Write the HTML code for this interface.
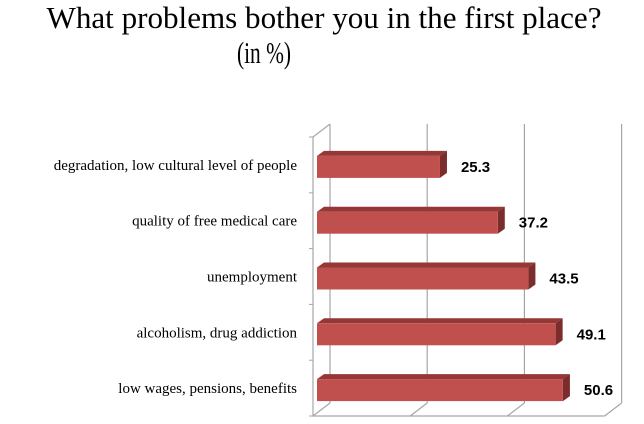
<!DOCTYPE html>
<html><head><meta charset="utf-8"><style>
html,body{margin:0;padding:0;background:#fff;}
svg{display:block;}
</style></head><body>
<svg id="chart" width="644" height="424" xmlns="http://www.w3.org/2000/svg">
<text x="324" y="28" text-anchor="middle" font-family="Liberation Serif, serif" font-size="31" textLength="555" lengthAdjust="spacingAndGlyphs" fill="#000">What problems bother you in the first place?</text>
<text x="264" y="63" text-anchor="middle" font-family="Liberation Serif, serif" font-size="31" textLength="54" lengthAdjust="spacingAndGlyphs" fill="#000">(in %)</text>
<g id="grid"></g>
<g id="bars"></g>
</svg>
<script>
const categories = ["degradation, low cultural level of people","quality of free medical care","unemployment","alcoholism, drug addiction","low wages, pensions, benefits"];
const values = [25.3, 37.2, 43.5, 49.1, 50.6];
const valueLabels = ["25.3","37.2","43.5","49.1","50.6"];
const ticks = [0, 20, 40, 60];

const NS = "http://www.w3.org/2000/svg";
const x0 = 317, pxPer = 4.86;
function xs(v){ return x0 + v*pxPer; }
const yTop = 137, yBottom = 416, nCat = categories.length;
const band = (yBottom-yTop)/nCat;
function yBand(i){ return yTop + i*band; }
const dx = 17, dy = 13;
function mk(tag, attrs, parent){ const e=document.createElementNS(NS,tag); for(const k in attrs) e.setAttribute(k,attrs[k]); parent.appendChild(e); return e; }
const grid = document.getElementById('grid');
const bars = document.getElementById('bars');
ticks.forEach((t)=>{
  const fx = xs(t)-4;
  const g = mk('line',{x1:fx+dx,y1:yTop-dy,x2:fx+dx,y2:yBottom-dy,stroke:'#a6a6a6','stroke-width':1.2},grid);
  
  
  mk('line',{x1:fx,y1:yBottom,x2:fx+dx,y2:yBottom-dy,stroke:'#a6a6a6','stroke-width':1.2},grid);
});
const fl = xs(0)-4;
const ax = mk('line',{x1:fl,y1:yTop,x2:fl,y2:yBottom,stroke:'#a6a6a6','stroke-width':1.2},grid);


mk('line',{x1:fl,y1:yTop,x2:fl+dx,y2:yTop-dy,stroke:'#a6a6a6','stroke-width':1.2},grid);
const bx = mk('line',{x1:fl,y1:yBottom,x2:xs(60)-4,y2:yBottom,stroke:'#a6a6a6','stroke-width':1.2},grid);


for(let i=0;i<=nCat;i++){ mk('line',{x1:fl-4,y1:yBand(i),x2:fl,y2:yBand(i),stroke:'#a6a6a6','stroke-width':1},grid); }
const bh = 22, bd = 7, bu = 5;
values.forEach((v,i)=>{
  const y = yBand(i) + band/2 - bh/2 + 2;
  const x1 = xs(0), x2 = xs(v);
  const g = mk('g',{},bars);
  
  
  mk('polygon',{points:`${x1},${y} ${x1+bd},${y-bu} ${x2+bd},${y-bu} ${x2},${y}`,fill:'#953735'},g);
  mk('polygon',{points:`${x2},${y} ${x2+bd},${y-bu} ${x2+bd},${y+bh-bu} ${x2},${y+bh}`,fill:'#7a2d2b'},g);
  mk('rect',{x:x1,y:y,width:x2-x1,height:bh,fill:'#c0504d'},g);
  const lab = mk('text',{x:x2+21,y:y+bh/2+5,'font-family':'Liberation Sans, sans-serif','font-size':15,'font-weight':'bold',fill:'#000'},bars);
  lab.textContent = valueLabels[i];
  
  
  const cl = mk('text',{x:297,y:y+bh/2+3,'text-anchor':'end','font-family':'Liberation Serif, serif','font-size':15,fill:'#000'},bars);
  cl.textContent = categories[i];
  
  
});
</script>
</body></html>
